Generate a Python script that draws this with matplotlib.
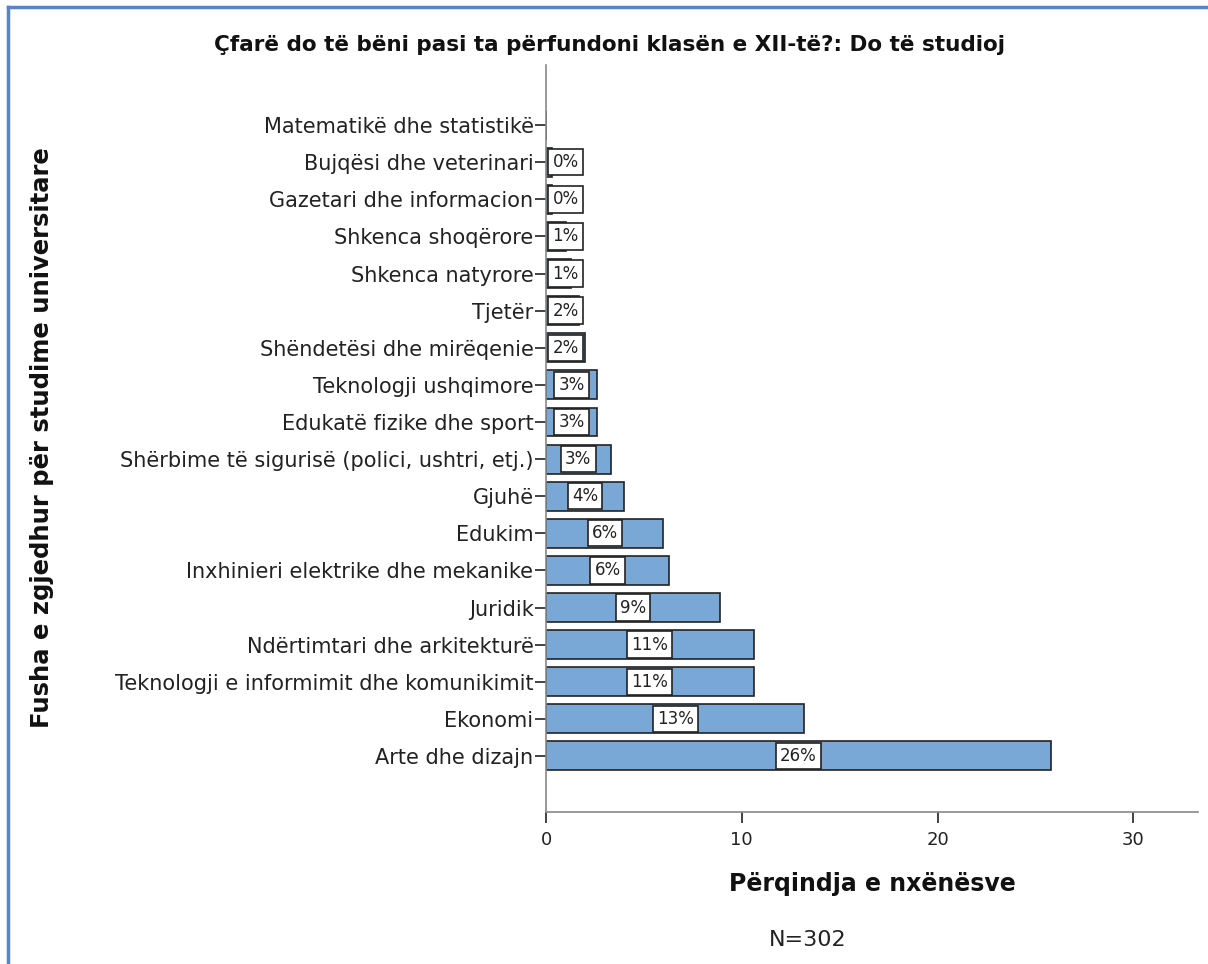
import numpy as np
import matplotlib.pyplot as plt
from matplotlib.lines import Line2D

# fields, listed top to bottom as in the chart
fields = [
    "Matematikë dhe statistikë",
    "Bujqësi dhe veterinari",
    "Gazetari dhe informacion",
    "Shkenca shoqërore",
    "Shkenca natyrore",
    "Tjetër",
    "Shëndetësi dhe mirëqenie",
    "Teknologji ushqimore",
    "Edukatë fizike dhe sport",
    "Shërbime të sigurisë (polici, ushtri, etj.)",
    "Gjuhë",
    "Edukim",
    "Inxhinieri elektrike dhe mekanike",
    "Juridik",
    "Ndërtimtari dhe arkitekturë",
    "Teknologji e informimit dhe komunikimit",
    "Ekonomi",
    "Arte dhe dizajn",
]
percent = [0.0, 0.3, 0.3, 1.0, 1.3, 1.7, 2.0, 2.6, 2.6, 3.3, 4.0, 6.0, 6.3, 8.9, 10.6, 10.6, 13.2, 25.8]
labels = ["", "0%", "0%", "1%", "1%", "2%", "2%", "3%", "3%", "3%", "4%", "6%", "6%",
          "9%", "11%", "11%", "13%", "26%"]
xticks = [0, 10, 20, 30]

W, H = 1208, 964
fig = plt.figure(figsize=(W / 100, H / 100), dpi=100)
plt.rcParams['font.family'] = ['DejaVu Sans']

ax = fig.add_axes([546 / W, 1 - 812 / H, (1198 - 546) / W, (812 - 65) / H])

n = len(fields)
ypos = np.arange(n)[::-1]
ax.barh(ypos, percent, height=0.78, color='#79a7d6', edgecolor='#222222', linewidth=1.2)

for y, v, lab in zip(ypos, percent, labels):
    if not lab:
        continue
    ax.text(max(v / 2, 1.0), y, lab, ha='center', va='center', fontsize=12, color='#222222',
            bbox=dict(boxstyle='square,pad=0.25', fc='white', ec='#222222', lw=1.2))

ax.set_ylim(-1.51, n - 1 + 1.62)
ax.set_xlim(0, 33.3)
ax.set_yticks(ypos)
ax.set_yticklabels(fields, fontsize=15, color='#222222')
ax.set_xticks(xticks)
ax.set_xticklabels([str(t) for t in xticks], fontsize=13, color='#222222')
ax.tick_params(axis='y', length=8, width=1.2, color='#222222', pad=1)
ax.tick_params(axis='x', length=8, width=1.2, color='#222222', pad=6)

for s in ['top', 'right']:
    ax.spines[s].set_visible(False)
for s in ['left', 'bottom']:
    ax.spines[s].set_color('#888888')
    ax.spines[s].set_linewidth(1.2)

fig.text(610 / W, 1 - 45 / H, "Çfarë do të bëni pasi ta përfundoni klasën e XII-të?: Do të studioj",
         ha='center', va='center', fontsize=15.5, fontweight='bold', color='#111111')
fig.text(42 / W, 1 - 438 / H, "Fusha e zgjedhur për studime universitare", rotation=90,
         ha='center', va='center', fontsize=17.5, fontweight='bold', color='#111111')
fig.text(872 / W, 1 - 884 / H, "Përqindja e nxënësve", ha='center', va='center',
         fontsize=17, fontweight='bold', color='#111111')
fig.text(808 / W, 1 - 940 / H, "N=302", ha='center', va='center', fontsize=16, color='#222222')

# screenshot frame
fig.add_artist(Line2D([8 / W, 8 / W], [0, 1 - 7 / H], transform=fig.transFigure,
                      color='#5585c5', lw=2.5))
fig.add_artist(Line2D([8 / W, 1], [1 - 7 / H, 1 - 7 / H], transform=fig.transFigure,
                      color='#5585c5', lw=2.5))

fig.savefig('out.png', dpi=100)
